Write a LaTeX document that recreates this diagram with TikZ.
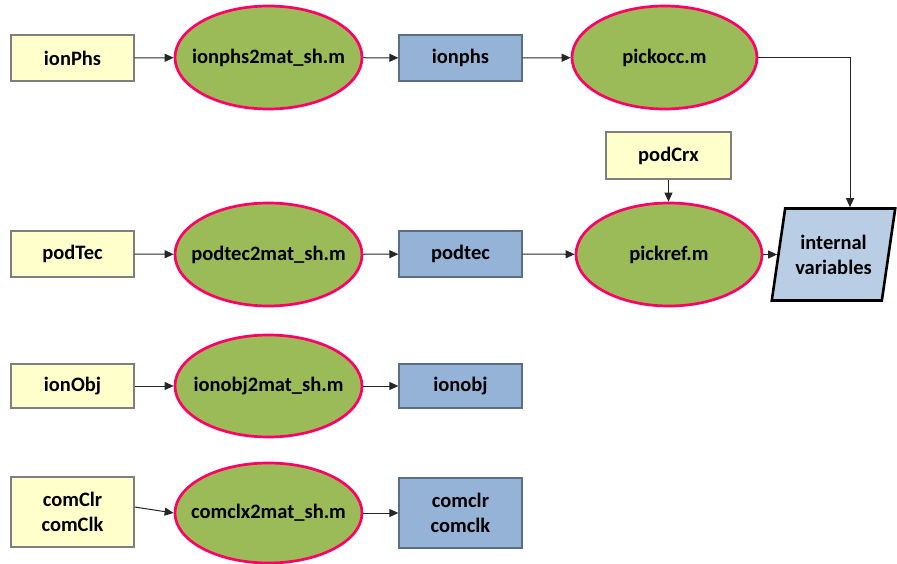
\documentclass[tikz,border=0pt]{standalone}
\usepackage{fontspec}
\setmainfont{Carlito}
\usetikzlibrary{shapes.geometric,arrows.meta}
\definecolor{yfill}{HTML}{FFFFCC}
\definecolor{yline}{HTML}{7F7F7F}
\definecolor{gfill}{HTML}{9BBB59}
\definecolor{pline}{HTML}{FF0066}
\definecolor{bfill}{HTML}{95B3D7}
\definecolor{bline}{HTML}{5B6E86}
\definecolor{pfill}{HTML}{B9CDE5}
\newcommand{\zw}[1]{\makebox[0pt]{#1}}
\tikzset{
  every node/.style={font=\bfseries\fontsize{20.5}{25}\selectfont, align=center, inner sep=0pt},
  inbox/.style={rectangle, draw=yline, fill=yfill, line width=1.3pt, minimum width=123pt, minimum height=46pt},
  outbox/.style={rectangle, draw=bline, fill=bfill, line width=1.3pt, minimum width=123pt, minimum height=46pt},
  proc/.style={ellipse, draw=pline, fill=gfill, line width=2.7pt, minimum width=187pt, minimum height=103pt},
  conn/.style={draw=black!85, line width=1pt, -{Triangle[length=9pt,width=8pt]}}
}
\begin{document}
\begin{tikzpicture}[x=1pt,y=-1pt]
\useasboundingbox (0,0) rectangle (897,564);
% row 1
\node[inbox] (ionPhs) at (72.5,58) {ionPhs};
\node[proc] (ionphsm) at (268.5,57.5) {\zw{ionphs2mat\_sh.m}};
\node[outbox] (ionphs) at (460.5,58) {ionphs};
\node[proc, minimum width=185pt] (pickocc) at (664.5,57.5) {\zw{pickocc.m}};
% row 2
\node[inbox, minimum width=125pt, minimum height=47pt] (podCrx) at (668.5,155.5) {podCrx};
\node[inbox] (podTec) at (72.5,254) {podTec};
\node[proc] (podtecm) at (268.5,254.5) {\zw{podtec2mat\_sh.m}};
\node[outbox] (podtec) at (460.5,254) {podtec};
\node[proc, minimum width=186pt] (pickref) at (669,254.5) {\zw{pickref.m}};
\node[trapezium, trapezium left angle=75, trapezium right angle=105, trapezium stretches=true,
      draw=black, fill=pfill, line width=2.6pt, minimum width=124pt, minimum height=92pt] (iv) at (833.5,254.5) {internal\\variables};
% row 3
\node[inbox, minimum height=44pt] (ionObj) at (72.5,386) {ionObj};
\node[proc, minimum height=102pt] (ionobjm) at (268.5,386) {\zw{ionobj2mat\_sh.m}};
\node[outbox, minimum height=44pt] (ionobj) at (460.5,386) {ionobj};
% row 4
\node[inbox, minimum height=70pt] (comClr) at (72.5,512) {comClr\\comClk};
\node[proc, minimum height=100pt] (comclxm) at (268.5,513) {\zw{comclx2mat\_sh.m}};
\node[outbox, minimum height=70pt] (comclr) at (460.5,513) {comclr\\comclk};
% connectors
\draw[conn] (ionPhs) -- (ionphsm);
\draw[conn] (ionphsm) -- (ionphs);
\draw[conn] (ionphs) -- (pickocc);
\draw[conn] (pickocc.east) -| ([xshift=16.5pt]iv.north);
\draw[conn] (podCrx) -- (podCrx |- pickref.north);
\draw[conn] (podTec) -- (podtecm);
\draw[conn] (podtecm) -- (podtec);
\draw[conn] (podtec) -- (pickref);
\draw[conn] (pickref.east) -- (iv.west |- pickref.east);
\draw[conn] (ionObj) -- (ionobjm);
\draw[conn] (ionobjm) -- (ionobj);
\draw[conn] ([yshift=5pt]comClr.east) -- (comclxm.west);
\draw[conn] (comclxm) -- (comclr);
\end{tikzpicture}
\end{document}
